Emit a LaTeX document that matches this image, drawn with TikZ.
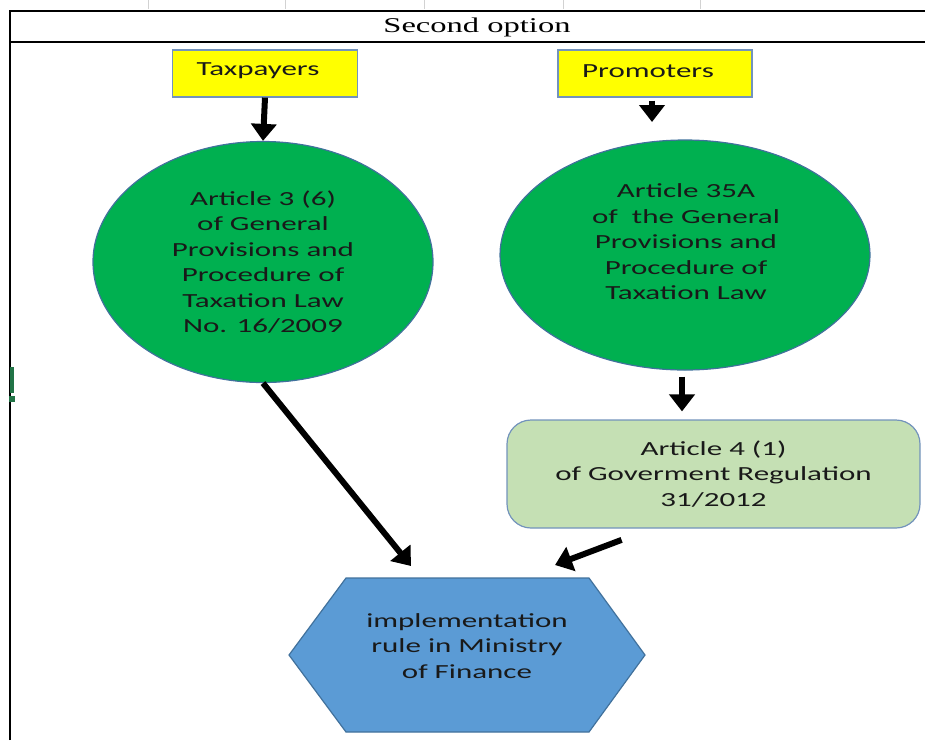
\documentclass[tikz,border=0pt]{standalone}
\usepackage{fontspec}
\usetikzlibrary{shapes.geometric, arrows.meta, calc, positioning}

\newfontfamily\calib[FakeStretch=1.55]{Carlito}
\newfontfamily\tms[FakeStretch=1.55]{Liberation Serif}

\definecolor{tvyellow}{HTML}{FFFF00}
\definecolor{tvgreen}{HTML}{00B050}
\definecolor{tvlgreen}{HTML}{C5E0B4}
\definecolor{tvblue}{HTML}{5B9BD5}
\definecolor{tvedge}{HTML}{41719C}
\definecolor{tvedgel}{HTML}{7393BC}
\definecolor{tvxl}{HTML}{217346}

\begin{document}
\begin{tikzpicture}[x=1pt, y=-1pt,
    txt/.style={font=\calib\fontsize{20}{25.5}\selectfont, align=center, text=black!90},
    actor/.style={txt, draw=tvedgel, line width=1.2pt, fill=tvyellow, minimum width=185pt, minimum height=47pt, inner sep=0pt},
    law/.style={ellipse, draw=tvedge, line width=1.2pt, fill=tvgreen, inner sep=0pt},
    arr/.style={line width=6pt, -{Triangle[length=17pt, width=25pt]}}]
        \useasboundingbox (0,0) rectangle (925,740);

        % Sheet
        \foreach \gx in {148, 285, 424, 563, 700}
            \draw[gray!35, line width=1pt] (\gx,0) -- (\gx,9);
        \draw[line width=2.4pt] (10,740) -- (10,11) -- (925,11);
        \draw[line width=2.4pt] (10,42) -- (925,42);
        \node[font=\tms\fontsize{21}{24}\selectfont] (title) at (477,27) {Second option};
        \fill[tvxl] (10,367) rectangle (14,393);
        \fill[tvxl] (9,396) rectangle (15,402);

        % Actors
        \node[actor] (tax) at (265,73.5) {};
        \node[txt] (taxt) at (258,71) {Taxpayers};
        \node[actor, minimum width=194pt] (promo) at (655,73.5) {};
        \node[txt] (promot) at (648,71) {Promoters};

        % Laws
        \node[law, minimum width=340pt, minimum height=241pt, txt] (art3) at (263,262)
            {Article 3 (6)\\of General\\Provisions and\\Procedure of\\Taxation Law\\No. 16/2009};
        \node[law, minimum width=370pt, minimum height=230pt] (art35) at (685,255) {};
        \node[txt] (art35t) at (686,242)
            {Article 35A\\of\ \ the General\\Provisions and\\Procedure of\\Taxation Law};

        % Regulation
        \node[txt, draw=tvedgel, line width=1.2pt, fill=tvlgreen, rounded corners=24pt,
              minimum width=413pt, minimum height=108pt] (reg) at (713.5,474)
            {Article 4 (1)\\of Goverment Regulation\\31/2012};

        % Ministry
        \filldraw[fill=tvblue, draw=tvedge, line width=1.2pt]
            (289,655) -- (346,578) -- (589,578) -- (645,655) -- (589,732) -- (346,732) -- cycle;
        \node[txt] (hex) at (467,646) {implementation\\rule in Ministry\\of Finance};

        % Arrows
        \coordinate (p1) at (652,122);
        \coordinate (in1) at (411,566);
        \coordinate (in2) at (555,565);
        \draw[arr] (tax.south) -- (art3.north);
        \draw[arr, shorten <=3pt] (promo.south -| p1) -- (p1);
        \draw[arr, shorten <=6pt, shorten >=8pt] (art35.south -| 682,0) -- (reg.north -| 682,0);
        \draw[arr] (art3.south) -- (in1);
        \draw[arr, shorten <=32pt] ([xshift=-62pt]reg.south) -- (in2);
    \end{tikzpicture}
\end{document}
